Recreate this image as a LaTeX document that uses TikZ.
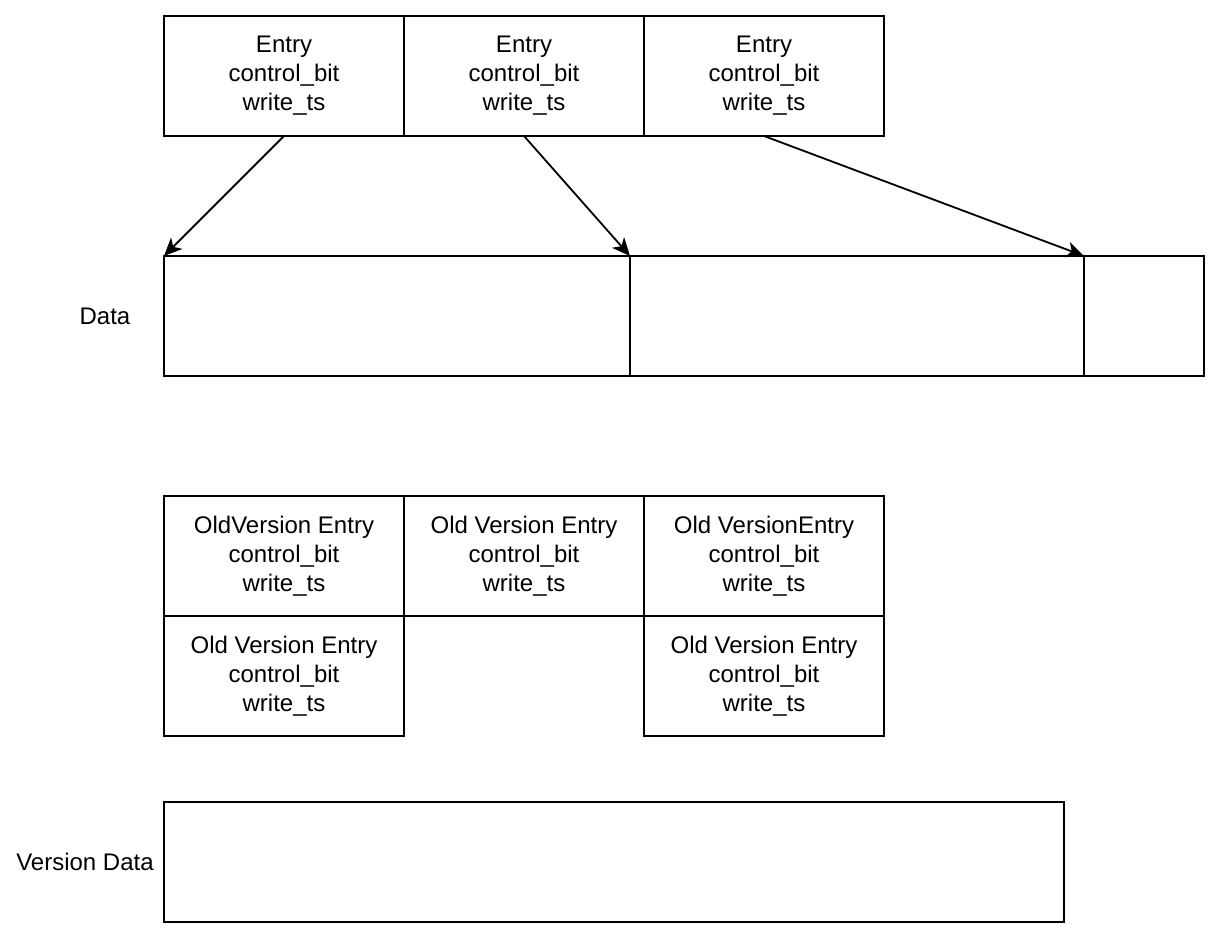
\documentclass[tikz,border=0pt]{standalone}
\usepackage{fontspec}
\setmainfont{Liberation Sans}
\usetikzlibrary{arrows.meta,positioning}

\begin{document}
\begin{tikzpicture}[
  x=0.5pt, y=-0.5pt,
  node distance=0pt,
  cell/.style={draw, line width=0.9pt, outer sep=0pt, inner sep=0pt,
               minimum width=120pt, minimum height=60pt, align=center,
               font=\fontsize{12}{14.5}\selectfont},
  datacell/.style={cell, minimum width=#1},
  lbl/.style={font=\fontsize{12}{14.5}\selectfont},
  arrow/.style={-{Stealth[length=9pt, width=8pt, inset=2.5pt]}, line width=0.9pt}
]
\useasboundingbox (0,0) rectangle (1222,940);
% entries
\node[cell, anchor=north west] (entryA) at (164,16) {Entry\\control\_bit\\write\_ts};
\node[cell, right=of entryA] (entryB) {Entry\\control\_bit\\write\_ts};
\node[cell, right=of entryB] (entryC) {Entry\\control\_bit\\write\_ts};
% data
\node[datacell=233pt, anchor=north west] (dataA) at (164,256) {};
\node[datacell=227pt, right=of dataA] (dataB) {};
\node[datacell=60pt, right=of dataB] (dataC) {};
\node[lbl] (datalbl) at (105,316) {Data};
\draw[arrow] (entryA.south) -- (dataA.north west);
\draw[arrow] (entryB.south) -- (dataB.north west);
\draw[arrow] (entryC.south) -- (dataC.north west);
% old versions
\node[cell, anchor=north west] (oldA) at (164,496) {OldVersion Entry\\control\_bit\\write\_ts};
\node[cell, right=of oldA] (oldB) {Old Version Entry\\control\_bit\\write\_ts};
\node[cell, right=of oldB] (oldC) {Old VersionEntry\\control\_bit\\write\_ts};
\node[cell, below=of oldA] (oldD) {Old Version Entry\\control\_bit\\write\_ts};
\node[cell, below=of oldC] (oldE) {Old Version Entry\\control\_bit\\write\_ts};
% version data
\node[datacell=450pt, anchor=north west] (verdata) at (164,802) {};
\node[lbl] (verlbl) at (85,862) {Version Data};
\end{tikzpicture}
\end{document}
